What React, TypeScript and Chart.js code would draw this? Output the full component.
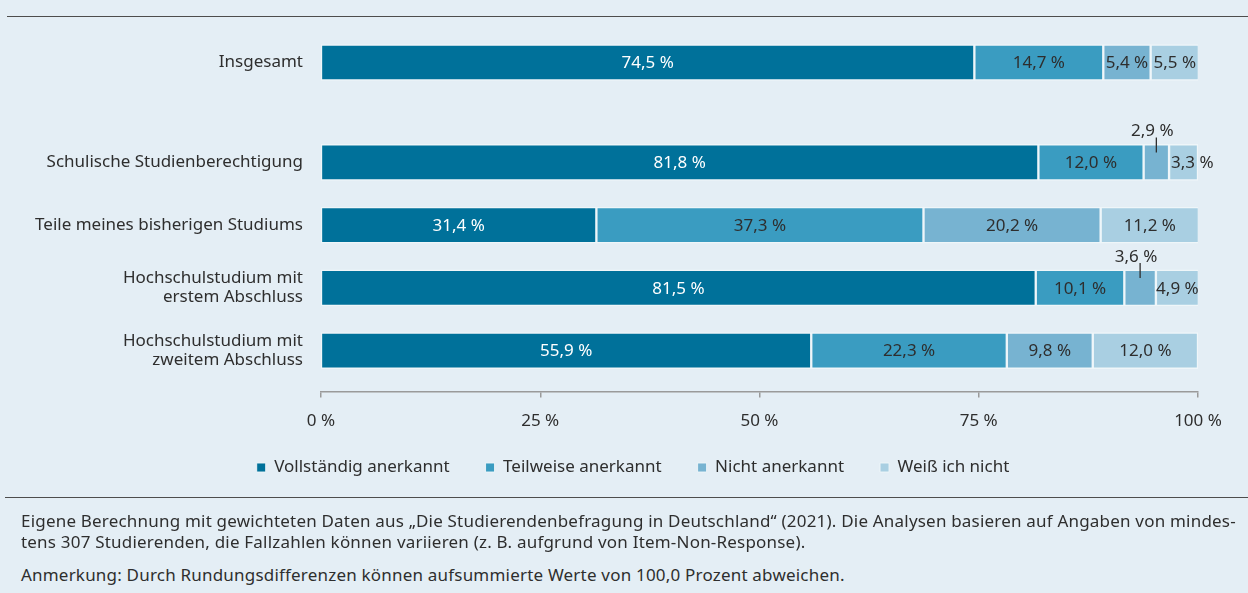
import React, { useEffect, useRef } from 'react';
import { Chart, registerables } from 'chart.js';
Chart.register(...registerables);

const FONT = '"Noto Sans", "DejaVu Sans", sans-serif';
const TEXT = '#2e2e2e';

const seriesNames = ['Vollständig anerkannt', 'Teilweise anerkannt', 'Nicht anerkannt', 'Weiß ich nicht'];
const seriesColors = ['#00719a', '#3a9cc1', '#77b3d1', '#a9cfe2'];

const totalLabel = ['Insgesamt'];
const totalVollstaendig = [74.5];
const totalTeilweise = [14.7];
const totalNicht = [5.4];
const totalWeiss = [5.5];

const categories = [
  'Schulische Studienberechtigung',
  'Teile meines bisherigen Studiums',
  ['Hochschulstudium mit', 'erstem Abschluss'],
  ['Hochschulstudium mit', 'zweitem Abschluss'],
];
const vollstaendig = [81.8, 31.4, 81.5, 55.9];
const teilweise = [12.0, 37.3, 10.1, 22.3];
const nicht = [2.9, 20.2, 3.6, 9.8];
const weiss = [3.3, 11.2, 4.9, 12.0];

const xTickValues = [0, 25, 50, 75, 100];

const footer1 = 'Eigene Berechnung mit gewichteten Daten aus „Die Studierendenbefragung in Deutschland“ (2021). Die Analysen basieren auf Angaben von mindes-';
const footer2 = 'tens 307 Studierenden, die Fallzahlen können variieren (z. B. aufgrund von Item-Non-Response).';
const footer3 = 'Anmerkung: Durch Rundungsdifferenzen können aufsummierte Werte von 100,0 Prozent abweichen.';

const fmt = (v: number) => v.toFixed(1).replace('.', ',') + ' %';

const segLabels = {
  id: 'segLabels',
  afterDatasetsDraw(chart: any) {
    const ctx = chart.ctx;
    const n = chart.data.datasets.length;
    ctx.save();
    ctx.font = `17px ${FONT}`;
    ctx.textBaseline = 'middle';
    chart.data.datasets.forEach((ds: any, di: number) => {
      const meta = chart.getDatasetMeta(di);
      meta.data.forEach((bar: any, i: number) => {
        const v = ds.data[i];
        if (v == null) return;
        const { x, y, base, height } = bar.getProps(['x', 'y', 'base', 'height'], true);
        const cx = (x + base) / 2;
        const txt = fmt(v);
        const w = ctx.measureText(txt).width;
        if (v < 4 && di < n - 1) {
          const top = y - height / 2;
          ctx.strokeStyle = TEXT;
          ctx.lineWidth = 1.3;
          ctx.beginPath();
          ctx.moveTo(cx, top - 7);
          ctx.lineTo(cx, top + 8);
          ctx.stroke();
          ctx.fillStyle = TEXT;
          ctx.textAlign = 'center';
          ctx.fillText(txt, cx - 4, top - 13);
        } else {
          ctx.fillStyle = di === 0 ? '#ffffff' : TEXT;
          if (di === n - 1 && w > x - base + 2) {
            ctx.textAlign = 'left';
            ctx.fillText(txt, base + 2, y + 1);
          } else {
            ctx.textAlign = 'center';
            ctx.fillText(txt, cx, y + 1);
          }
        }
      });
    });
    ctx.restore();
  },
};

function makeDatasets(values: number[][]) {
  return seriesNames.map((name, i) => ({
    label: name,
    data: values[i],
    backgroundColor: seriesColors[i],
    borderColor: 'rgba(240,246,250,0.9)',
    borderWidth: 1.5,
    borderSkipped: false,
    barThickness: 36,
  }));
}

const base = {
  indexAxis: 'y',
  animation: false,
  responsive: false,
  maintainAspectRatio: false,
  devicePixelRatio: 1,
};

function barConfig(labels: any[], values: number[][], padTop: number): any {
  return {
    type: 'bar',
    data: { labels, datasets: makeDatasets(values) },
    plugins: [segLabels],
    options: {
      ...base,
      layout: { padding: { left: 0, right: 50, top: padTop, bottom: 0 } },
      plugins: { legend: { display: false }, tooltip: { enabled: false } },
      scales: {
        x: { stacked: true, min: 0, max: 100, display: false },
        y: {
          stacked: true,
          grid: { display: false, drawTicks: false },
          border: { display: false },
          ticks: { color: TEXT, font: { family: FONT, size: 17, lineHeight: 1.12 }, padding: 18 },
          afterFit: (s: any) => { s.width = 321; s.paddingTop = 0; s.paddingBottom = 0; },
        },
      },
    },
  };
}

function emptyDatasets() {
  return seriesNames.map((name, i) => ({
    label: name,
    data: [],
    backgroundColor: seriesColors[i],
    borderColor: 'rgba(240,246,250,0.9)',
    borderWidth: 1,
  }));
}

export default function App() {
  const refA = useRef<HTMLCanvasElement>(null);
  const refB = useRef<HTMLCanvasElement>(null);
  const refC = useRef<HTMLCanvasElement>(null);
  const refD = useRef<HTMLCanvasElement>(null);

  useEffect(() => {
    const a = new Chart(refA.current as any, barConfig(totalLabel, [totalVollstaendig, totalTeilweise, totalNicht, totalWeiss], 0));
    const b = new Chart(refB.current as any, barConfig(categories, [vollstaendig, teilweise, nicht, weiss], 25));
    // x axis
    const c = new Chart(refC.current as any, {
      type: 'bar',
      data: { labels: [''], datasets: emptyDatasets() },
      options: {
        ...base,
        layout: { padding: { left: 0, right: 50, top: 0, bottom: 2 } },
        plugins: { tooltip: { enabled: false }, legend: { display: false } },
        scales: {
          x: {
            min: 0,
            max: 100,
            afterBuildTicks: (s: any) => { s.ticks = xTickValues.map((v) => ({ value: v })); },
            ticks: { color: TEXT, font: { family: FONT, size: 17 }, padding: 13, callback: (v: any) => v + ' %' },
            grid: { drawOnChartArea: false, drawTicks: true, tickLength: 6, color: '#9a9a9a', lineWidth: 1.5 },
            border: { display: true, color: '#9a9a9a', width: 1.5 },
          },
          y: {
            display: true,
            grid: { display: false },
            border: { display: false },
            ticks: { display: false },
            afterFit: (s: any) => { s.width = 321; },
          },
        },
      },
    } as any);
    // legend
    const d = new Chart(refD.current as any, {
      type: 'bar',
      data: { labels: [''], datasets: emptyDatasets() },
      options: {
        ...base,
        layout: { padding: 0 },
        plugins: {
          tooltip: { enabled: false },
          legend: {
            position: 'top',
            labels: {
              boxWidth: 9,
              boxHeight: 9,
              padding: 36,
              color: TEXT,
              font: { family: FONT, size: 17 },
            },
          },
        },
        scales: { x: { display: false }, y: { display: false } },
      },
    } as any);
    return () => { a.destroy(); b.destroy(); c.destroy(); d.destroy(); };
  }, []);

  const abs = (o: any) => ({ position: 'absolute', ...o } as React.CSSProperties);

  return (
    <div style={abs({ left: 0, top: 0, width: 1248, height: 593, background: '#e4eef5', overflow: 'hidden', fontFamily: FONT, color: TEXT, position: 'fixed' })}>
      <div style={abs({ left: 7, top: 16, width: 1241, height: 0, borderTop: '1.5px solid #4d4d4d' })} />
      <canvas ref={refA} width={1248} height={45} style={abs({ left: 0, top: 40, width: 1248, height: 45 })} />
      <canvas ref={refB} width={1248} height={276} style={abs({ left: 0, top: 106, width: 1248, height: 276 })} />
      <canvas ref={refC} width={1248} height={83} style={abs({ left: 0, top: 351, width: 1248, height: 83 })} />
      <canvas ref={refD} width={1214} height={130} style={abs({ left: 26, top: 423, width: 1214, height: 130 })} />
      <div style={abs({ left: 5, top: 497, width: 1243, height: 0, borderTop: '1.5px solid #4d4d4d' })} />
      <div style={abs({ left: 21, top: 510, fontSize: 17, letterSpacing: '0.2px', lineHeight: '21px', whiteSpace: 'nowrap' })}>
        <div>{footer1}</div>
        <div>{footer2}</div>
      </div>
      <div style={abs({ left: 21, top: 564, fontSize: 17, letterSpacing: '0.2px', lineHeight: '21px', whiteSpace: 'nowrap' })}>{footer3}</div>
    </div>
  );
}
